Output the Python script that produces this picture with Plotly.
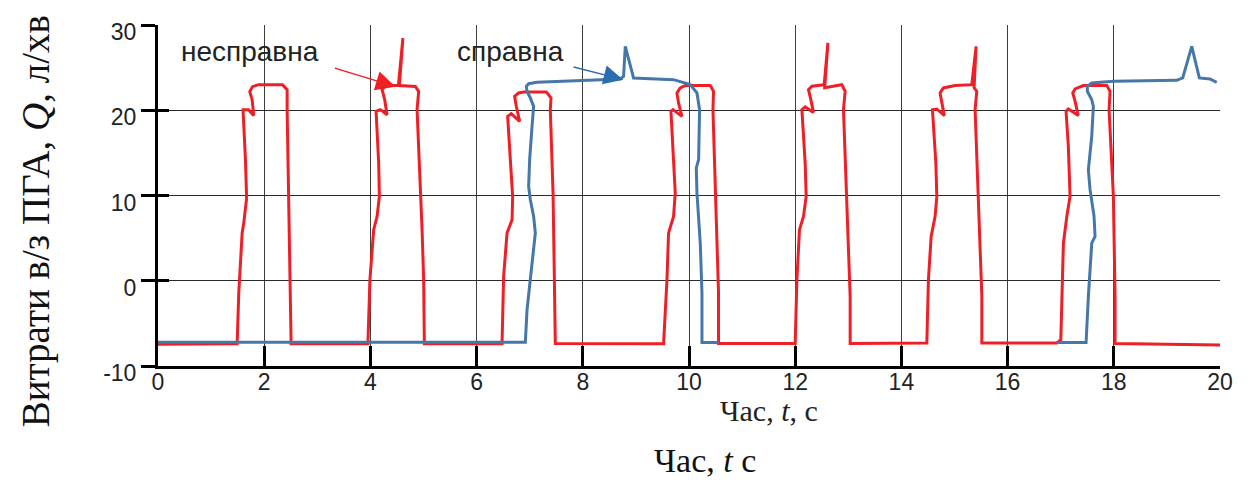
import plotly.graph_objects as go

# ---- data (time, s ; flow Q, l/min) ----
red_t = [0.00,
         1.491, 1.521, 1.585, 1.615, 1.666, 1.666, 1.647, 1.604, 1.604, 1.704, 1.803, 1.773, 1.728, 1.779, 1.892, 2.344, 2.432, 2.432, 2.456, 2.481, 2.494, 2.507,
         3.953, 3.991, 4.062, 4.126, 4.169, 4.156, 4.107, 4.188, 4.314, 4.269, 4.220, 4.282, 4.527, 4.612, 4.546, 4.847, 4.909, 4.879, 4.973, 5.003, 5.016,
         6.479, 6.509, 6.573, 6.668, 6.679, 6.635, 6.585, 6.654, 6.811, 6.748, 6.716, 6.791, 6.886, 7.313, 7.402, 7.388, 7.440, 7.464, 7.482,
         9.521, 9.585, 9.615, 9.709, 9.741, 9.709, 9.660, 9.698, 9.867, 9.803, 9.773, 9.835, 9.929, 10.400, 10.462, 10.451, 10.494, 10.556, 10.556,
         12.000, 12.032, 12.081, 12.156, 12.207, 12.188, 12.126, 12.188, 12.344, 12.295, 12.250, 12.314, 12.546, 12.616, 12.556, 12.879, 12.941, 12.909, 12.973, 13.035, 13.035,
         14.479, 14.509, 14.560, 14.635, 14.667, 14.649, 14.585, 14.667, 14.810, 14.762, 14.729, 14.792, 15.012, 15.326, 15.407, 15.369, 15.420, 15.388, 15.451, 15.515, 15.515,
         16.926, 17.002, 17.051, 17.115, 17.176, 17.144, 17.101, 17.144, 17.332, 17.271, 17.227, 17.271, 17.427, 17.868, 17.930, 17.911, 17.992, 18.024, 18.024,
         20.07]
red_q = [-7.45,
         -7.40, -1.40, 5.60, 6.80, 9.50, 10.30, 14.20, 19.70, 20.07, 20.07, 19.37, 21.24, 22.18, 22.77, 23.00, 23.00, 22.42, 20.07, 9.51, 2.46, -2.23, -7.40,
         -7.40, 0.12, 5.99, 7.55, 9.89, 13.81, 19.87, 20.07, 19.48, 21.24, 22.42, 22.89, 22.89, 28.46, 22.89, 22.80, 22.22, 20.07, 5.99, 0.12, -7.40,
         -7.40, 0.50, 5.60, 7.16, 9.89, 14.20, 19.28, 19.60, 18.70, 20.46, 21.63, 22.03, 22.15, 22.15, 21.44, 20.07, 10.29, 0.50, -7.35,
         -7.40, 0.12, 5.60, 7.55, 10.29, 14.20, 19.87, 20.07, 19.28, 20.86, 22.03, 22.62, 22.89, 22.89, 22.22, 20.07, 10.29, -1.44, -7.35,
         -7.35, 0.12, 5.99, 7.55, 9.89, 13.81, 20.07, 20.39, 19.75, 21.24, 22.42, 22.81, 23.00, 27.90, 22.65, 23.00, 22.22, 20.07, 9.89, -1.84, -7.35,
         -7.30, 0.12, 5.20, 7.55, 9.89, 13.81, 20.07, 20.15, 19.37, 20.86, 22.03, 22.62, 22.89, 23.00, 27.50, 22.65, 22.22, 20.07, 9.89, -1.84, -7.30,
         -7.30, -6.92, 4.42, 7.55, 9.89, 15.76, 19.87, 20.15, 19.37, 21.04, 22.03, 22.50, 22.89, 22.89, 22.22, 20.07, 9.89, -1.84, -7.35,
         -7.55]

blue_t = [0.00, 6.918, 6.950, 7.012, 7.074, 7.106, 7.074, 7.012, 6.980, 6.999, 7.044, 7.074, 7.012, 6.950, 6.936, 6.980, 7.138,
          7.953, 8.706, 8.768, 8.800, 8.956, 9.709, 10.024, 10.150, 10.199, 10.181, 10.137, 10.150, 10.212, 10.244, 10.244, 10.556,
          None,
          16.926, 17.478, 17.521, 17.585, 17.647, 17.628, 17.553, 17.521, 17.585, 17.615, 17.585, 17.502, 17.502, 17.585, 17.992,
          19.185, 19.298, 19.468, 19.611, 19.812, 19.938]
blue_q = [-7.20, -7.20, -3.40, 0.50, 4.03, 5.60, 7.55, 9.51, 11.07, 14.20, 18.11, 20.46, 21.44, 22.22, 22.80, 23.12, 23.27,
          23.51, 23.67, 23.98, 27.50, 23.79, 23.59, 23.00, 22.03, 20.07, 14.20, 13.23, 10.29, 4.42, -1.44, -7.25, -7.25,
          None,
          -7.25, -7.25, -1.84, 4.42, 5.20, 7.55, 10.68, 13.03, 16.94, 20.46, 21.24, 22.22, 22.80, 23.20, 23.39,
          23.51, 23.79, 27.50, 23.79, 23.67, 23.27]

x_ticks = [0, 2, 4, 6, 8, 10, 12, 14, 16, 18, 20]
y_ticks = [-10, 0, 10, 20, 30]

RED = "#ee1f26"
BLUE = "#4677a9"

fig = go.Figure()
fig.add_trace(go.Scatter(x=red_t, y=red_q, mode="lines", name="несправна",
                         line=dict(color=RED, width=3),
                         showlegend=False))
fig.add_trace(go.Scatter(x=blue_t, y=blue_q, mode="lines", name="справна",
                         line=dict(color=BLUE, width=3),
                         connectgaps=False, showlegend=False))
# empty helper trace so that the overlaid axis carrying the inner tick halves is drawn
fig.add_trace(go.Scatter(x=[None], y=[None], yaxis="y2", mode="lines",
                         showlegend=False, hoverinfo="skip"))

# the page body adds an 8 px margin, so the figure is 16 px smaller than the window
fig.update_layout(
    width=1236, height=472,
    margin=dict(l=150, r=24, t=17, b=114, autoexpand=False),
    paper_bgcolor="white", plot_bgcolor="white",
    font=dict(family="Liberation Sans, Arial, sans-serif", size=23, color="#222"),
    xaxis=dict(range=[0, 20], tickvals=x_ticks, ticktext=[str(v) for v in x_ticks],
               showgrid=True, gridcolor="#3c3c3c", gridwidth=1.2, zeroline=False,
               showline=True, linecolor="black", linewidth=3, automargin=False,
               ticks="inside", ticklen=20, tickwidth=3, tickcolor="black",
               ticklabelstandoff=-7,
               tickfont=dict(size=23, color="#222")),
    yaxis=dict(range=[-10, 30], tickvals=y_ticks, ticktext=[str(v) for v in y_ticks],
               showgrid=True, gridcolor="#2a2a2a", gridwidth=1.2, zeroline=False,
               showline=True, linecolor="black", linewidth=3, automargin=False,
               ticks="outside", ticklen=14, tickwidth=3, tickcolor="black",
               ticklabelshift=7, ticklabelstandoff=0,
               tickfont=dict(size=23, color="#222")),
    yaxis2=dict(range=[-10, 30], overlaying="y", anchor="x", side="left",
                tickvals=[0, 10, 20, 30], ticks="inside", ticklen=11, tickwidth=3,
                tickcolor="black", showticklabels=False, showgrid=False,
                zeroline=False, showline=False, automargin=False),
)

# labels and arrows
fig.add_annotation(x=4.47, y=22.77, ax=-62, ay=-19, xref="x", yref="y",
                   text="", showarrow=True, arrowhead=2, arrowsize=2.6,
                   arrowwidth=1.5, arrowcolor=RED)
fig.add_annotation(x=8.76, y=23.59, ax=-51, ay=-13, xref="x", yref="y",
                   text="", showarrow=True, arrowhead=2, arrowsize=2.6,
                   arrowwidth=1.5, arrowcolor="#2a6db0")
fig.add_annotation(x=1.74, y=26.9, xref="x", yref="y", text="несправна",
                   showarrow=False, font=dict(size=28, color="#222",
                   family="Liberation Sans, Arial, sans-serif"))
fig.add_annotation(x=6.64, y=26.9, xref="x", yref="y", text="справна",
                   showarrow=False, font=dict(size=28, color="#222",
                   family="Liberation Sans, Arial, sans-serif"))

fig.add_annotation(x=0.5755, y=-0.13, xref="paper", yref="paper",
                   text="Час, <i>t</i>, с", showarrow=False,
                   xanchor="center", yanchor="middle",
                   font=dict(size=30, color="#222", family="Liberation Serif, Times New Roman, serif"))
fig.add_annotation(x=0.515, y=-0.278, xref="paper", yref="paper",
                   text="Час, <i>t</i> с", showarrow=False,
                   xanchor="center", yanchor="middle",
                   font=dict(size=34, color="#111", family="Liberation Serif, Times New Roman, serif"))
fig.add_annotation(x=-0.1153, y=0.423, xref="paper", yref="paper",
                   text="Витрати в/з ПГА, <i>Q</i>, л/хв", showarrow=False,
                   textangle=-90, xanchor="center", yanchor="middle",
                   font=dict(size=39, color="#111", family="Liberation Serif, Times New Roman, serif"))

fig.write_html("out.html")
